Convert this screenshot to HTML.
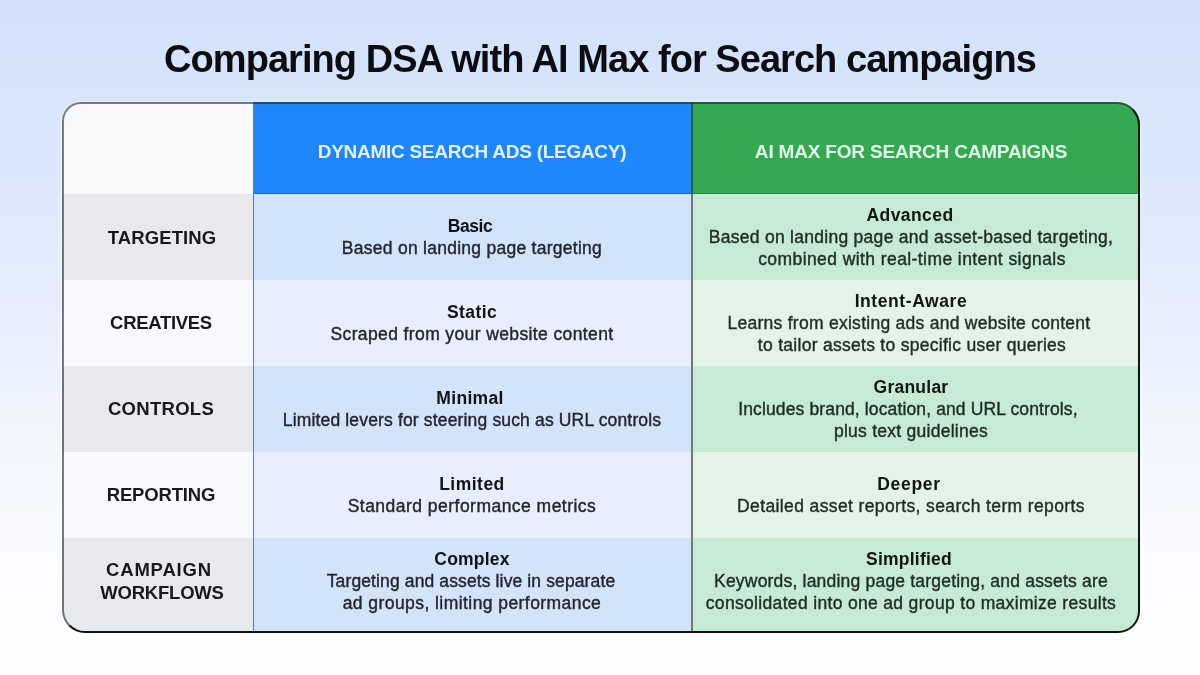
<!DOCTYPE html>
<html>
<head>
<meta charset="utf-8">
<style>
html,body{margin:0;padding:0;}
body{width:1200px;height:675px;overflow:hidden;position:relative;
  background:linear-gradient(180deg,#d3e2fa 0%,#dae7fb 22%,#e6eefc 45%,#f2f6fe 65%,#fafbff 82%,#fefefe 100%);
  font-family:"Liberation Sans",sans-serif;}
.t{position:absolute;text-align:center;white-space:nowrap;will-change:transform;}
.tbl{position:absolute;left:62px;top:102px;width:1078.2px;height:530.5px;border-radius:19px 23px 22px 23px;overflow:hidden;
  box-shadow:0 0 0 1.5px rgba(255,255,255,0.3);}
.ov{position:absolute;left:62px;top:102px;width:1078.2px;height:530.5px;border-radius:19px 23px 22px 23px;box-sizing:border-box;
  border-style:solid;border-width:2px 2.5px 2.8px 2px;border-color:rgba(30,36,46,0.6) rgba(5,8,8,0.95) rgba(5,8,8,0.95) rgba(30,36,46,0.6);}
.body-t{-webkit-text-stroke:0.4px currentColor;}
.b{position:absolute;}
</style>
</head>
<body>
<div class="tbl">
<div class="b" style="left:0.00px;top:0.00px;width:191.00px;height:92.00px;background:#f8f9fb"></div>
<div class="b" style="left:0.00px;top:92.00px;width:191.00px;height:86.00px;background:#e8e9ed"></div>
<div class="b" style="left:0.00px;top:178.00px;width:191.00px;height:86.00px;background:#f8f9fc"></div>
<div class="b" style="left:0.00px;top:264.00px;width:191.00px;height:86.00px;background:#e8e9ed"></div>
<div class="b" style="left:0.00px;top:350.00px;width:191.00px;height:86.00px;background:#f8f9fc"></div>
<div class="b" style="left:0.00px;top:436.00px;width:191.00px;height:94.50px;background:#e8e9ed"></div>
<div class="b" style="left:192.20px;top:0.00px;width:437.00px;height:92.00px;background:#1f87fb"></div>
<div class="b" style="left:192.20px;top:92.00px;width:437.00px;height:86.00px;background:#d3e3fa"></div>
<div class="b" style="left:192.20px;top:178.00px;width:437.00px;height:86.00px;background:#e8eefc"></div>
<div class="b" style="left:192.20px;top:264.00px;width:437.00px;height:86.00px;background:#d3e3fa"></div>
<div class="b" style="left:192.20px;top:350.00px;width:437.00px;height:86.00px;background:#e8eefc"></div>
<div class="b" style="left:192.20px;top:436.00px;width:437.00px;height:94.50px;background:#d3e3fa"></div>
<div class="b" style="left:630.40px;top:0.00px;width:447.80px;height:92.00px;background:#34a853"></div>
<div class="b" style="left:630.40px;top:92.00px;width:447.80px;height:86.00px;background:#c7ead4"></div>
<div class="b" style="left:630.40px;top:178.00px;width:447.80px;height:86.00px;background:#e4f3e9"></div>
<div class="b" style="left:630.40px;top:264.00px;width:447.80px;height:86.00px;background:#c7ead4"></div>
<div class="b" style="left:630.40px;top:350.00px;width:447.80px;height:86.00px;background:#e4f3e9"></div>
<div class="b" style="left:630.40px;top:436.00px;width:447.80px;height:94.50px;background:#c7ead4"></div>
<div class="b" style="left:192.20px;top:90.80px;width:437.00px;height:1.20px;background:#1d63c2"></div>
<div class="b" style="left:630.40px;top:90.80px;width:447.80px;height:1.20px;background:#2c8045"></div>
<div class="b" style="left:190.80px;top:0.00px;width:1.50px;height:530.50px;background:#6f7884"></div>
<div class="b" style="left:629.00px;top:0.00px;width:1.50px;height:530.50px;background:#6d7882"></div>
<div class="b" style="left:629.00px;top:0.00px;width:1.50px;height:92.00px;background:#14606a"></div>
</div>
<div class="ov"></div>
<div class="t" style="left:149.57px;top:35.88px;width:900px;font-size:38px;line-height:47.5px;font-weight:bold;color:#0b0d12;letter-spacing:-0.954px">Comparing DSA with AI Max for Search campaigns</div>
<div class="t" style="left:21.66px;top:139.54px;width:900px;font-size:19px;line-height:23.75px;font-weight:bold;color:#e3f1ff;letter-spacing:-0.277px">DYNAMIC SEARCH ADS (LEGACY)</div>
<div class="t" style="left:460.95px;top:139.74px;width:900px;font-size:19px;line-height:23.75px;font-weight:bold;color:#e2fbe8;letter-spacing:-0.189px">AI MAX FOR SEARCH CAMPAIGNS</div>
<div class="t" style="left:-288.35px;top:225.63px;width:900px;font-size:18.5px;line-height:23.12px;font-weight:bold;color:#17191d;letter-spacing:0.100px">TARGETING</div>
<div class="t" style="left:-289.15px;top:311.23px;width:900px;font-size:18.5px;line-height:23.12px;font-weight:bold;color:#17191d;letter-spacing:-0.300px">CREATIVES</div>
<div class="t" style="left:-288.66px;top:397.33px;width:900px;font-size:18.5px;line-height:23.12px;font-weight:bold;color:#17191d;letter-spacing:0.285px">CONTROLS</div>
<div class="t" style="left:-289.08px;top:483.23px;width:900px;font-size:18.5px;line-height:23.12px;font-weight:bold;color:#17191d;letter-spacing:-0.151px">REPORTING</div>
<div class="t" style="left:-291.09px;top:557.93px;width:900px;font-size:18.5px;line-height:23.12px;font-weight:bold;color:#17191d;letter-spacing:0.829px">CAMPAIGN</div>
<div class="t" style="left:-288.21px;top:581.13px;width:900px;font-size:18.5px;line-height:23.12px;font-weight:bold;color:#17191d;letter-spacing:-0.226px">WORKFLOWS</div>
<div class="t" style="left:19.80px;top:216.17px;width:900px;font-size:17.5px;line-height:21.88px;font-weight:bold;color:#101218;letter-spacing:-0.400px">Basic</div>
<div class="t body-t" style="left:22.33px;top:238.22px;width:900px;font-size:17.5px;line-height:21.88px;font-weight:normal;color:#222630;letter-spacing:0.266px">Based on landing page targeting</div>
<div class="t" style="left:22.21px;top:301.77px;width:900px;font-size:17.5px;line-height:21.88px;font-weight:bold;color:#101218;letter-spacing:0.430px">Static</div>
<div class="t body-t" style="left:22.09px;top:323.82px;width:900px;font-size:17.5px;line-height:21.88px;font-weight:normal;color:#222630;letter-spacing:0.385px">Scraped from your website content</div>
<div class="t" style="left:19.96px;top:387.87px;width:900px;font-size:17.5px;line-height:21.88px;font-weight:bold;color:#101218;letter-spacing:0.317px">Minimal</div>
<div class="t body-t" style="left:22.38px;top:409.92px;width:900px;font-size:17.5px;line-height:21.88px;font-weight:normal;color:#222630;letter-spacing:0.157px">Limited levers for steering such as URL controls</div>
<div class="t" style="left:22.14px;top:473.77px;width:900px;font-size:17.5px;line-height:21.88px;font-weight:bold;color:#101218;letter-spacing:0.483px">Limited</div>
<div class="t body-t" style="left:22.44px;top:495.82px;width:900px;font-size:17.5px;line-height:21.88px;font-weight:normal;color:#222630;letter-spacing:0.474px">Standard performance metrics</div>
<div class="t" style="left:22.21px;top:548.85px;width:900px;font-size:17.5px;line-height:21.88px;font-weight:bold;color:#101218;letter-spacing:0.217px">Complex</div>
<div class="t body-t" style="left:20.86px;top:570.90px;width:900px;font-size:17.5px;line-height:21.88px;font-weight:normal;color:#222630;letter-spacing:0.121px">Targeting and assets live in separate</div>
<div class="t body-t" style="left:22.32px;top:593.35px;width:900px;font-size:17.5px;line-height:21.88px;font-weight:normal;color:#222630;letter-spacing:0.434px">ad groups, limiting performance</div>
<div class="t" style="left:459.72px;top:204.95px;width:900px;font-size:17.5px;line-height:21.88px;font-weight:bold;color:#0f1612;letter-spacing:0.435px">Advanced</div>
<div class="t body-t" style="left:461.44px;top:227.00px;width:900px;font-size:17.5px;line-height:21.88px;font-weight:normal;color:#1c2d24;letter-spacing:0.277px">Based on landing page and asset-based targeting,</div>
<div class="t body-t" style="left:461.61px;top:249.45px;width:900px;font-size:17.5px;line-height:21.88px;font-weight:normal;color:#1c2d24;letter-spacing:0.416px">combined with real-time intent signals</div>
<div class="t" style="left:461.19px;top:290.55px;width:900px;font-size:17.5px;line-height:21.88px;font-weight:bold;color:#0f1612;letter-spacing:0.586px">Intent-Aware</div>
<div class="t body-t" style="left:458.83px;top:312.60px;width:900px;font-size:17.5px;line-height:21.88px;font-weight:normal;color:#1c2d24;letter-spacing:0.269px">Learns from existing ads and website content</div>
<div class="t body-t" style="left:461.54px;top:335.05px;width:900px;font-size:17.5px;line-height:21.88px;font-weight:normal;color:#1c2d24;letter-spacing:0.284px">to tailor assets to specific user queries</div>
<div class="t" style="left:460.72px;top:376.65px;width:900px;font-size:17.5px;line-height:21.88px;font-weight:bold;color:#0f1612;letter-spacing:0.236px">Granular</div>
<div class="t body-t" style="left:458.16px;top:398.70px;width:900px;font-size:17.5px;line-height:21.88px;font-weight:normal;color:#1c2d24;letter-spacing:0.127px">Includes brand, location, and URL controls,</div>
<div class="t body-t" style="left:461.03px;top:421.15px;width:900px;font-size:17.5px;line-height:21.88px;font-weight:normal;color:#1c2d24;letter-spacing:0.260px">plus text guidelines</div>
<div class="t" style="left:459.33px;top:473.77px;width:900px;font-size:17.5px;line-height:21.88px;font-weight:bold;color:#0f1612;letter-spacing:0.670px">Deeper</div>
<div class="t body-t" style="left:460.69px;top:495.82px;width:900px;font-size:17.5px;line-height:21.88px;font-weight:normal;color:#1c2d24;letter-spacing:0.375px">Detailed asset reports, search term reports</div>
<div class="t" style="left:459.02px;top:548.85px;width:900px;font-size:17.5px;line-height:21.88px;font-weight:bold;color:#0f1612;letter-spacing:0.239px">Simplified</div>
<div class="t body-t" style="left:460.80px;top:570.90px;width:900px;font-size:17.5px;line-height:21.88px;font-weight:normal;color:#1c2d24;letter-spacing:0.201px">Keywords, landing page targeting, and assets are</div>
<div class="t body-t" style="left:461.36px;top:593.35px;width:900px;font-size:17.5px;line-height:21.88px;font-weight:normal;color:#1c2d24;letter-spacing:0.329px">consolidated into one ad group to maximize results</div>
</body>
</html>
